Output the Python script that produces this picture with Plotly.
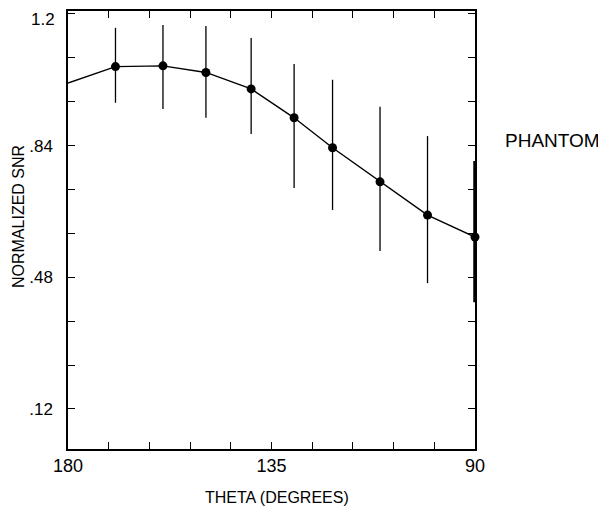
import plotly.graph_objects as go

# Data
theta = [180, 169.5, 159, 149.5, 139.5, 130, 121.5, 111, 100.5, 90]
snr = [1.011, 1.056, 1.058, 1.040, 0.995, 0.916, 0.834, 0.741, 0.650, 0.590]
snr_hi = [None, 1.162, 1.170, 1.167, 1.134, 1.063, 1.020, 0.946, 0.866, 0.798]
snr_lo = [None, 0.957, 0.940, 0.916, 0.872, 0.724, 0.664, 0.552, 0.464, 0.412]

x_ticks = [180, 171, 162, 153, 144, 135, 126, 117, 108, 99, 90]
x_labels = ["180", "", "", "", "", "135", "", "", "", "", "90"]
y_ticks = [0.12, 0.24, 0.36, 0.48, 0.60, 0.72, 0.84, 0.96, 1.08, 1.2]
# top label (1.2) is drawn as an annotation a bit below its tick, as in the scan
y_labels = [".12", "", "", ".48", "", "", ".84", "", "", ""]
y_top = 1.2

font = "Liberation Sans, Arial, Helvetica, sans-serif"

fig = go.Figure()

# connecting line (starts at the left edge, no marker there)
fig.add_trace(go.Scatter(
    x=theta, y=snr, mode="lines",
    line=dict(color="black", width=1.4),
    showlegend=False, hoverinfo="skip"))

# points with thin error bars
fig.add_trace(go.Scatter(
    x=theta[1:-1], y=snr[1:-1], mode="markers",
    marker=dict(color="black", size=9),
    error_y=dict(
        type="data", symmetric=False,
        array=[h - v for h, v in zip(snr_hi[1:-1], snr[1:-1])],
        arrayminus=[v - l for l, v in zip(snr_lo[1:-1], snr[1:-1])],
        color="black", thickness=1.3, width=0),
    showlegend=False))

# last point with the heavy error bar on the right edge
fig.add_trace(go.Scatter(
    x=theta[-1:], y=snr[-1:], mode="markers",
    marker=dict(color="black", size=9),
    error_y=dict(
        type="data", symmetric=False,
        array=[snr_hi[-1] - snr[-1]],
        arrayminus=[snr[-1] - snr_lo[-1]],
        color="black", thickness=3.5, width=0),
    cliponaxis=False,
    showlegend=False))

fig.add_annotation(
    text=str(y_top),
    xref="paper", yref="y", x=-0.027, y=y_top, yshift=-6,
    xanchor="right", yanchor="middle", showarrow=False,
    font=dict(family=font, size=17, color="black"))
fig.add_annotation(
    text="NORMALIZED SNR", textangle=-90,
    xref="paper", yref="paper", x=-0.12, y=0.53,
    xanchor="center", yanchor="middle", showarrow=False,
    font=dict(family=font, size=16, color="black"))
fig.add_annotation(
    text="THETA (DEGREES)",
    xref="paper", yref="paper", x=0.513, y=-0.11,
    xanchor="center", yanchor="middle", showarrow=False,
    font=dict(family=font, size=16, color="black"))
fig.add_annotation(
    text="PHANTOM",
    xref="paper", yref="paper", x=1.069, y=0.705,
    xanchor="left", yanchor="middle", showarrow=False,
    font=dict(family=font, size=19, color="black"))

# page body has an 8px margin, so the figure is 8px smaller each way
fig.update_layout(
    width=598, height=498,
    margin=dict(l=60, r=131, t=3, b=57),
    paper_bgcolor="white", plot_bgcolor="white",
    font=dict(family=font, color="black"))
fig.update_xaxes(
    range=[180, 90], automargin=False,
    tickvals=x_ticks, ticktext=x_labels,
    ticks="inside", ticklen=7, tickwidth=1.2, tickcolor="black",
    showline=True, linecolor="black", linewidth=1.5, mirror="ticks",
    showgrid=False, zeroline=False, ticklabeloverflow="allow",
    tickfont=dict(family=font, size=18, color="black"))
fig.update_yaxes(
    range=[0.0105, 1.208], automargin=False,
    tickvals=y_ticks, ticktext=y_labels,
    ticks="inside", ticklen=7, tickwidth=1.2, tickcolor="black",
    showline=True, linecolor="black", linewidth=1.5, mirror="ticks",
    showgrid=False, zeroline=False, ticklabelstandoff=10,
    ticklabeloverflow="allow",
    tickfont=dict(family=font, size=17, color="black"))

fig.write_html("out.html")
